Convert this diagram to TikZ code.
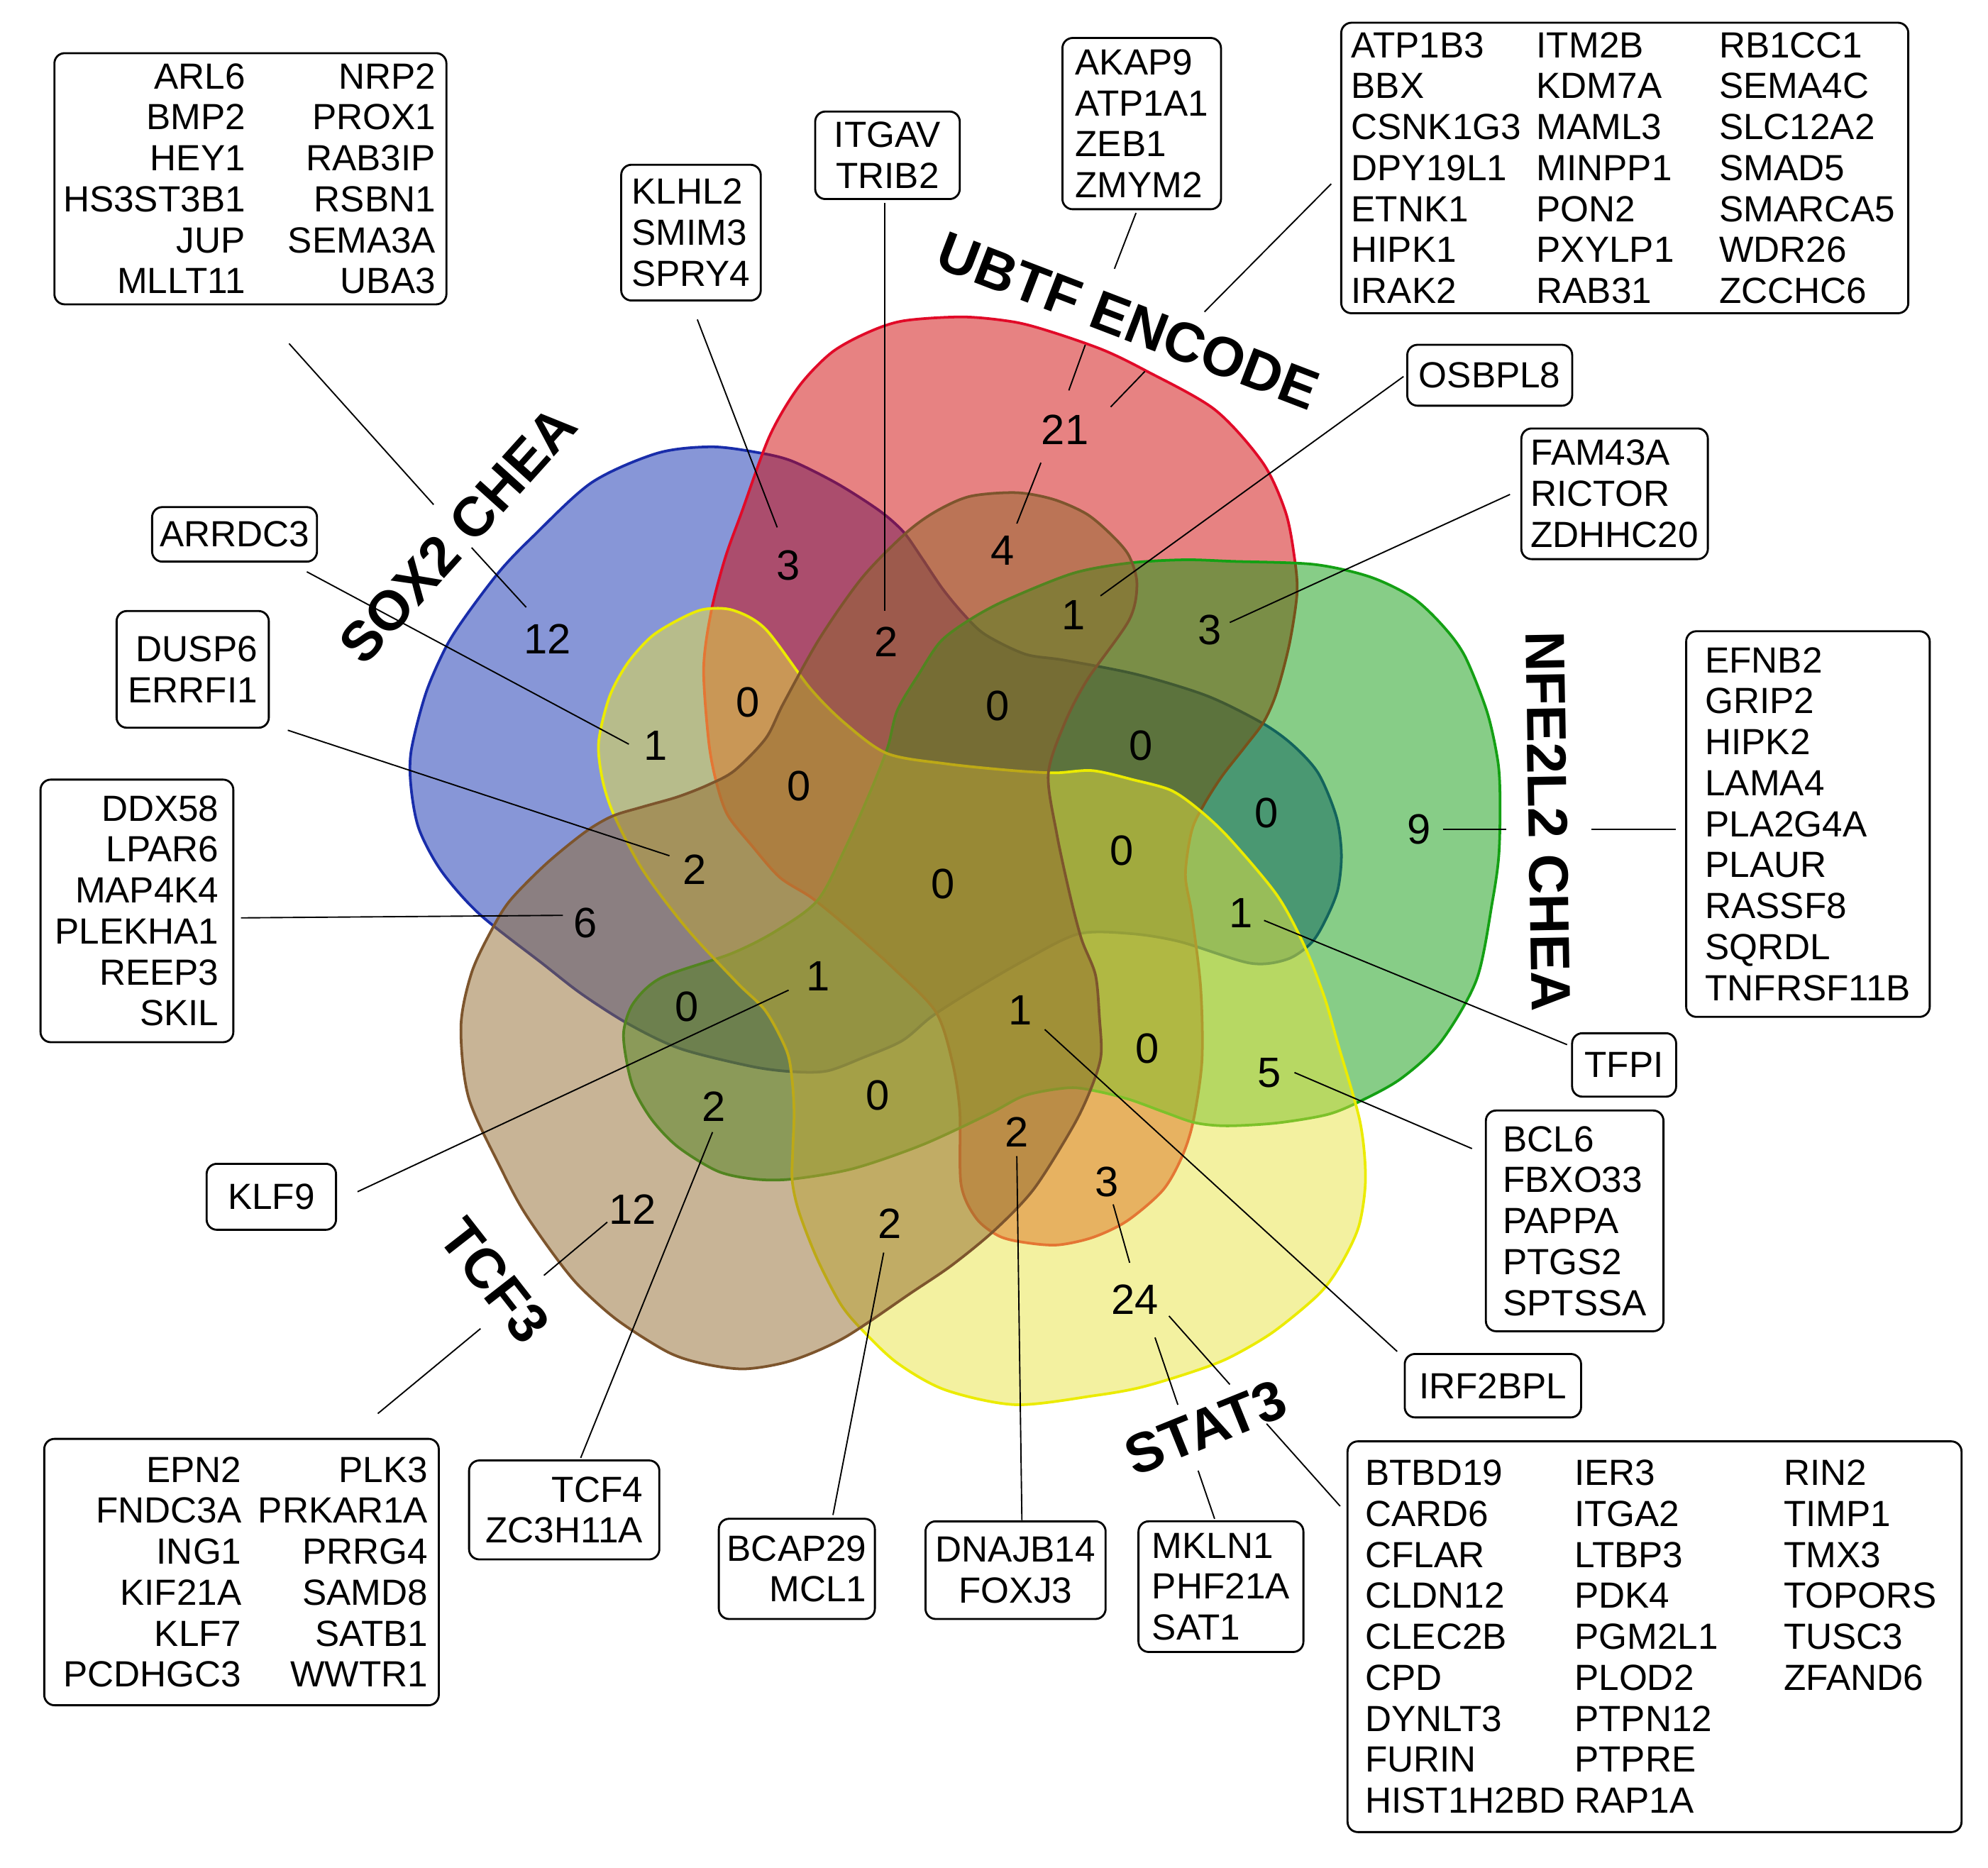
\documentclass[tikz,border=0pt]{standalone}
\usepackage{fontspec}
\setmainfont{Liberation Sans}

\definecolor{redF}{RGB}{207,5,5}
\definecolor{redL}{RGB}{225,10,40}
\definecolor{blueF}{RGB}{15,45,175}
\definecolor{blueL}{RGB}{25,45,170}
\definecolor{greenF}{RGB}{15,155,15}
\definecolor{greenL}{RGB}{20,160,20}
\definecolor{yellowF}{RGB}{231,227,65}
\definecolor{yellowL}{RGB}{235,235,0}
\definecolor{brownF}{RGB}{145,105,45}
\definecolor{brownL}{RGB}{125,85,45}

\newcommand\genefont{\fontsize{8.16}{9.19}\selectfont}
\newcommand\countfont{\fontsize{9.5}{11}\selectfont}
\newcommand\setfont{\fontsize{12.5}{14}\bfseries\selectfont}
\newcommand\colL[2]{\makebox[#1][l]{#2}}
\newcommand\colR[2]{\makebox[#1][r]{#2}}

\tikzset{
  blob/.style={fill opacity=0.5, line width=0.6pt},
  genebox/.style={draw, rounded corners=2.3pt, line width=0.45pt, inner sep=0pt, font=\genefont},
  count/.style={font=\countfont, inner sep=0pt},
  setname/.style={font=\setfont, inner sep=0pt},
  leader/.style={line width=0.3pt}
}

\begin{document}
\begin{tikzpicture}[x=0.01cm,y=-0.01cm]
\useasboundingbox (0,0) rectangle (1568,1473);
\coordinate (C) at (752,690);

% the five sets, one shape turned round C
\foreach \ang/\fc/\lc in {-288/blueF/blueL, 0/redF/redL, -72/greenF/greenL, -144/yellowF/yellowL, -216/brownF/brownL}{
  \path[blob, fill=\fc, draw=\lc, rotate around={\ang:(C)}] plot[smooth cycle] coordinates {
    (607,344) (630,305) (656,278) (685,262) (713,253) (760,250) (800,254) (830,262)
    (870,276) (903,292) (958,323) (996,365) (1014,404) (1021,440) (1023,468) (1017,508)
    (1007,546) (997,569) (982,589) (964,612) (950,634) (940,655) (935,690) (940,721)
    (947,779) (948,837) (941,885) (932,913) (917,939) (889,963) (862,976) (834,982)
    (808,980) (788,975) (770,961) (758,934) (757,876) (751,837) (738,798) (705,764)
    (667,730) (640,708) (615,692) (593,667) (574,643) (565,617) (559,585) (555,527)
    (561,482) (572,440) (585,404)};
}

% counts
\node[count] (n21) at (840,339) {21};
\node[count] (n4) at (791,434) {4};
\node[count] (n1a) at (847,485) {1};
\node[count] (n3a) at (954,497) {3};
\node[count] (n0a) at (787,557) {0};
\node[count] (n0b) at (900,588) {0};
\node[count] (n0c) at (999,641) {0};
\node[count] (n9) at (1119,654) {9};
\node[count] (n0d) at (885,671) {0};
\node[count] (n3b) at (622,446) {3};
\node[count] (n12a) at (432,504) {12};
\node[count] (n2a) at (699,506) {2};
\node[count] (n0e) at (590,554) {0};
\node[count] (n1b) at (517,588) {1};
\node[count] (n0f) at (630,620) {0};
\node[count] (n2b) at (548,686) {2};
\node[count] (n6) at (462,728) {6};
\node[count] (n0g) at (542,794) {0};
\node[count] (n1c) at (645,770) {1};
\node[count] (n2c) at (563,873) {2};
\node[count] (n0h) at (692,864) {0};
\node[count] (n12b) at (499,954) {12};
\node[count] (n2d) at (702,965) {2};
\node[count] (n1d) at (805,797) {1};
\node[count] (n0i) at (905,827) {0};
\node[count] (n1e) at (979,720) {1};
\node[count] (n5) at (1001,846) {5};
\node[count] (n2e) at (802,893) {2};
\node[count] (n3c) at (873,932) {3};
\node[count] (n24) at (895,1025) {24};
\node[count] (n0j) at (744,697) {0};

% set names
\node[setname, rotate=48] (sSox) at (361,422) {SOX2 CHEA};
\node[setname, rotate=-21] (sUbtf) at (890,253) {UBTF ENCODE};
\node[setname, rotate=-89] (sNfe) at (1221,648) {NFE2L2 CHEA};
\node[setname, rotate=22] (sStat) at (951,1126) {STAT3};
\node[setname, rotate=-52] (sTcf) at (390,1010) {TCF3};

% gene lists
\node[genebox, align=right, minimum width=3.09cm, minimum height=1.98cm] (gSox) at (197.5,141) {%
\colR{1.42cm}{ARL6}\colR{1.5cm}{NRP2}\\
\colR{1.42cm}{BMP2}\colR{1.5cm}{PROX1}\\
\colR{1.42cm}{HEY1}\colR{1.5cm}{RAB3IP}\\
\colR{1.42cm}{HS3ST3B1}\colR{1.5cm}{RSBN1}\\
\colR{1.42cm}{JUP}\colR{1.5cm}{SEMA3A}\\
\colR{1.42cm}{MLLT11}\colR{1.5cm}{UBA3}};
\node[genebox, align=left, minimum width=1.10cm, minimum height=1.07cm] (gKlhl) at (545,183.5) {KLHL2\\SMIM3\\SPRY4};
\node[genebox, align=center, minimum width=1.14cm, minimum height=0.69cm] (gItgav) at (700,122.5) {ITGAV\\TRIB2};
\node[genebox, align=left, minimum width=1.25cm, minimum height=1.35cm] (gAkap) at (900.5,97.5) {AKAP9\\ATP1A1\\ZEB1\\ZMYM2};
\node[genebox, align=left, minimum width=4.47cm, minimum height=2.29cm] (gUbtf) at (1281.5,132.5) {%
\colL{1.46cm}{ATP1B3}\colL{1.44cm}{ITM2B}\colL{1.41cm}{RB1CC1}\\
\colL{1.46cm}{BBX}\colL{1.44cm}{KDM7A}\colL{1.41cm}{SEMA4C}\\
\colL{1.46cm}{CSNK1G3}\colL{1.44cm}{MAML3}\colL{1.41cm}{SLC12A2}\\
\colL{1.46cm}{DPY19L1}\colL{1.44cm}{MINPP1}\colL{1.41cm}{SMAD5}\\
\colL{1.46cm}{ETNK1}\colL{1.44cm}{PON2}\colL{1.41cm}{SMARCA5}\\
\colL{1.46cm}{HIPK1}\colL{1.44cm}{PXYLP1}\colL{1.41cm}{WDR26}\\
\colL{1.46cm}{IRAK2}\colL{1.44cm}{RAB31}\colL{1.41cm}{ZCCHC6}};
\node[genebox, minimum width=1.30cm, minimum height=0.48cm] (gOsb) at (1175,296) {OSBPL8};
\node[genebox, align=left, minimum width=1.47cm, minimum height=1.03cm] (gFam) at (1273.5,389.5) {FAM43A\\RICTOR\\ZDHHC20};
\node[genebox, align=left, minimum width=1.92cm, minimum height=3.04cm] (gEfn) at (1426,650) {EFNB2\\GRIP2\\HIPK2\\LAMA4\\PLA2G4A\\PLAUR\\RASSF8\\SQRDL\\TNFRSF11B};
\node[genebox, minimum width=0.82cm, minimum height=0.50cm] (gTfpi) at (1281,840) {TFPI};
\node[genebox, align=left, minimum width=1.40cm, minimum height=1.74cm] (gBcl) at (1242,963) {BCL6\\FBXO33\\PAPPA\\PTGS2\\SPTSSA};
\node[genebox, minimum width=1.39cm, minimum height=0.50cm] (gIrf) at (1177.5,1093) {IRF2BPL};
\node[genebox, align=left, minimum width=4.84cm, minimum height=3.08cm] (gStat) at (1305,1291) {%
\colL{1.65cm}{BTBD19}\colL{1.65cm}{IER3}\colL{1.26cm}{RIN2}\\
\colL{1.65cm}{CARD6}\colL{1.65cm}{ITGA2}\colL{1.26cm}{TIMP1}\\
\colL{1.65cm}{CFLAR}\colL{1.65cm}{LTBP3}\colL{1.26cm}{TMX3}\\
\colL{1.65cm}{CLDN12}\colL{1.65cm}{PDK4}\colL{1.26cm}{TOPORS}\\
\colL{1.65cm}{CLEC2B}\colL{1.65cm}{PGM2L1}\colL{1.26cm}{TUSC3}\\
\colL{1.65cm}{CPD}\colL{1.65cm}{PLOD2}\colL{1.26cm}{ZFAND6}\\
\colL{1.65cm}{DYNLT3}\colL{1.65cm}{PTPN12}\colL{1.26cm}{}\\
\colL{1.65cm}{FURIN}\colL{1.65cm}{PTPRE}\colL{1.26cm}{}\\
\colL{1.65cm}{HIST1H2BD}\colL{1.65cm}{RAP1A}\colL{1.26cm}{}};
\node[genebox, align=left, minimum width=1.30cm, minimum height=1.03cm] (gMkln) at (963,1251.5) {MKLN1\\PHF21A\\SAT1};
\node[genebox, align=center, minimum width=1.42cm, minimum height=0.77cm] (gDnaj) at (801,1238.5) {DNAJB14\\FOXJ3};
\node[genebox, align=right, minimum width=1.23cm, minimum height=0.79cm] (gBcap) at (628.5,1237.5) {BCAP29\\MCL1};
\node[genebox, align=right, minimum width=1.50cm, minimum height=0.78cm] (gTcf4) at (445,1191) {TCF4\\ZC3H11A};
\node[genebox, align=right, minimum width=3.11cm, minimum height=2.10cm] (gTcf) at (190.5,1240) {%
\colR{1.47cm}{EPN2}\colR{1.47cm}{PLK3}\\
\colR{1.47cm}{FNDC3A}\colR{1.47cm}{PRKAR1A}\\
\colR{1.47cm}{ING1}\colR{1.47cm}{PRRG4}\\
\colR{1.47cm}{KIF21A}\colR{1.47cm}{SAMD8}\\
\colR{1.47cm}{KLF7}\colR{1.47cm}{SATB1}\\
\colR{1.47cm}{PCDHGC3}\colR{1.47cm}{WWTR1}};
\node[genebox, minimum width=1.02cm, minimum height=0.52cm] (gKlf) at (214,944) {KLF9};
\node[genebox, align=right, minimum width=1.52cm, minimum height=2.07cm] (gDdx) at (108,718.5) {DDX58\\LPAR6\\MAP4K4\\PLEKHA1\\REEP3\\SKIL};
\node[genebox, align=right, minimum width=1.20cm, minimum height=0.92cm] (gDusp) at (152,528) {DUSP6\\ERRFI1};
\node[genebox, minimum width=1.30cm, minimum height=0.43cm] (gArr) at (185,421.5) {ARRDC3};

% leaders, broken where a label lies across them
\coordinate (pSoxA) at (228,271); \coordinate (pSoxB) at (342,398);
\coordinate (pSoxC) at (372,432); \coordinate (pSoxD) at (415,479);
\draw[leader] (pSoxA) -- (pSoxB) (pSoxC) -- (pSoxD);
\coordinate (pKlhlA) at (550,252); \coordinate (pKlhlB) at (613,416);
\draw[leader] (pKlhlA) -- (pKlhlB);
\coordinate (pItgavA) at (698,160); \coordinate (pItgavB) at (698,482);
\draw[leader] (pItgavA) -- (pItgavB);
\coordinate (pAkapA) at (896,168); \coordinate (pAkapB) at (879,212);
\coordinate (pAkapC) at (856,272); \coordinate (pAkapD) at (843,308);
\coordinate (pAkapE) at (821,365); \coordinate (pAkapF) at (802,413);
\draw[leader] (pAkapA) -- (pAkapB) (pAkapC) -- (pAkapD) (pAkapE) -- (pAkapF);
\coordinate (pUbtfA) at (1050,145); \coordinate (pUbtfB) at (950,246);
\coordinate (pUbtfC) at (903,293); \coordinate (pUbtfD) at (876,321);
\draw[leader] (pUbtfA) -- (pUbtfB) (pUbtfC) -- (pUbtfD);
\coordinate (pOsbA) at (1107,297); \coordinate (pOsbB) at (868,470);
\draw[leader] (pOsbA) -- (pOsbB);
\coordinate (pFamA) at (1191,390); \coordinate (pFamB) at (970,491);
\draw[leader] (pFamA) -- (pFamB);
\coordinate (pEfnA) at (1138,654); \coordinate (pEfnB) at (1188,654);
\coordinate (pEfnC) at (1255,654); \coordinate (pEfnD) at (1322,654);
\draw[leader] (pEfnA) -- (pEfnB) (pEfnC) -- (pEfnD);
\coordinate (pTfpiA) at (997,726); \coordinate (pTfpiB) at (1236,824);
\draw[leader] (pTfpiA) -- (pTfpiB);
\coordinate (pBclA) at (1021,846); \coordinate (pBclB) at (1161,906);
\draw[leader] (pBclA) -- (pBclB);
\coordinate (pIrfA) at (824,812); \coordinate (pIrfB) at (1102,1066);
\draw[leader] (pIrfA) -- (pIrfB);
\coordinate (pStatA) at (922,1038); \coordinate (pStatB) at (970,1092);
\coordinate (pStatC) at (999,1123); \coordinate (pStatD) at (1057,1188);
\draw[leader] (pStatA) -- (pStatB) (pStatC) -- (pStatD);
\coordinate (pMklnA) at (878,950); \coordinate (pMklnB) at (891,996);
\coordinate (pMklnC) at (911,1055); \coordinate (pMklnD) at (929,1108);
\coordinate (pMklnE) at (945,1160); \coordinate (pMklnF) at (958,1198);
\draw[leader] (pMklnA) -- (pMklnB) (pMklnC) -- (pMklnD) (pMklnE) -- (pMklnF);
\coordinate (pDnajA) at (802,912); \coordinate (pDnajB) at (806,1199);
\draw[leader] (pDnajA) -- (pDnajB);
\coordinate (pBcapA) at (697,988); \coordinate (pBcapB) at (657,1195);
\draw[leader] (pBcapA) -- (pBcapB);
\coordinate (pTcf4A) at (562,893); \coordinate (pTcf4B) at (458,1150);
\draw[leader] (pTcf4A) -- (pTcf4B);
\coordinate (pTcfA) at (479,964); \coordinate (pTcfB) at (429,1006);
\coordinate (pTcfC) at (379,1048); \coordinate (pTcfD) at (298,1115);
\draw[leader] (pTcfA) -- (pTcfB) (pTcfC) -- (pTcfD);
\coordinate (pKlfA) at (282,940); \coordinate (pKlfB) at (622,781);
\draw[leader] (pKlfA) -- (pKlfB);
\coordinate (pDdxA) at (190,724); \coordinate (pDdxB) at (444,722);
\draw[leader] (pDdxA) -- (pDdxB);
\coordinate (pDuspA) at (227,576); \coordinate (pDuspB) at (528,675);
\draw[leader] (pDuspA) -- (pDuspB);
\coordinate (pArrA) at (242,451); \coordinate (pArrB) at (496,587);
\draw[leader] (pArrA) -- (pArrB);
\end{tikzpicture}
\end{document}
